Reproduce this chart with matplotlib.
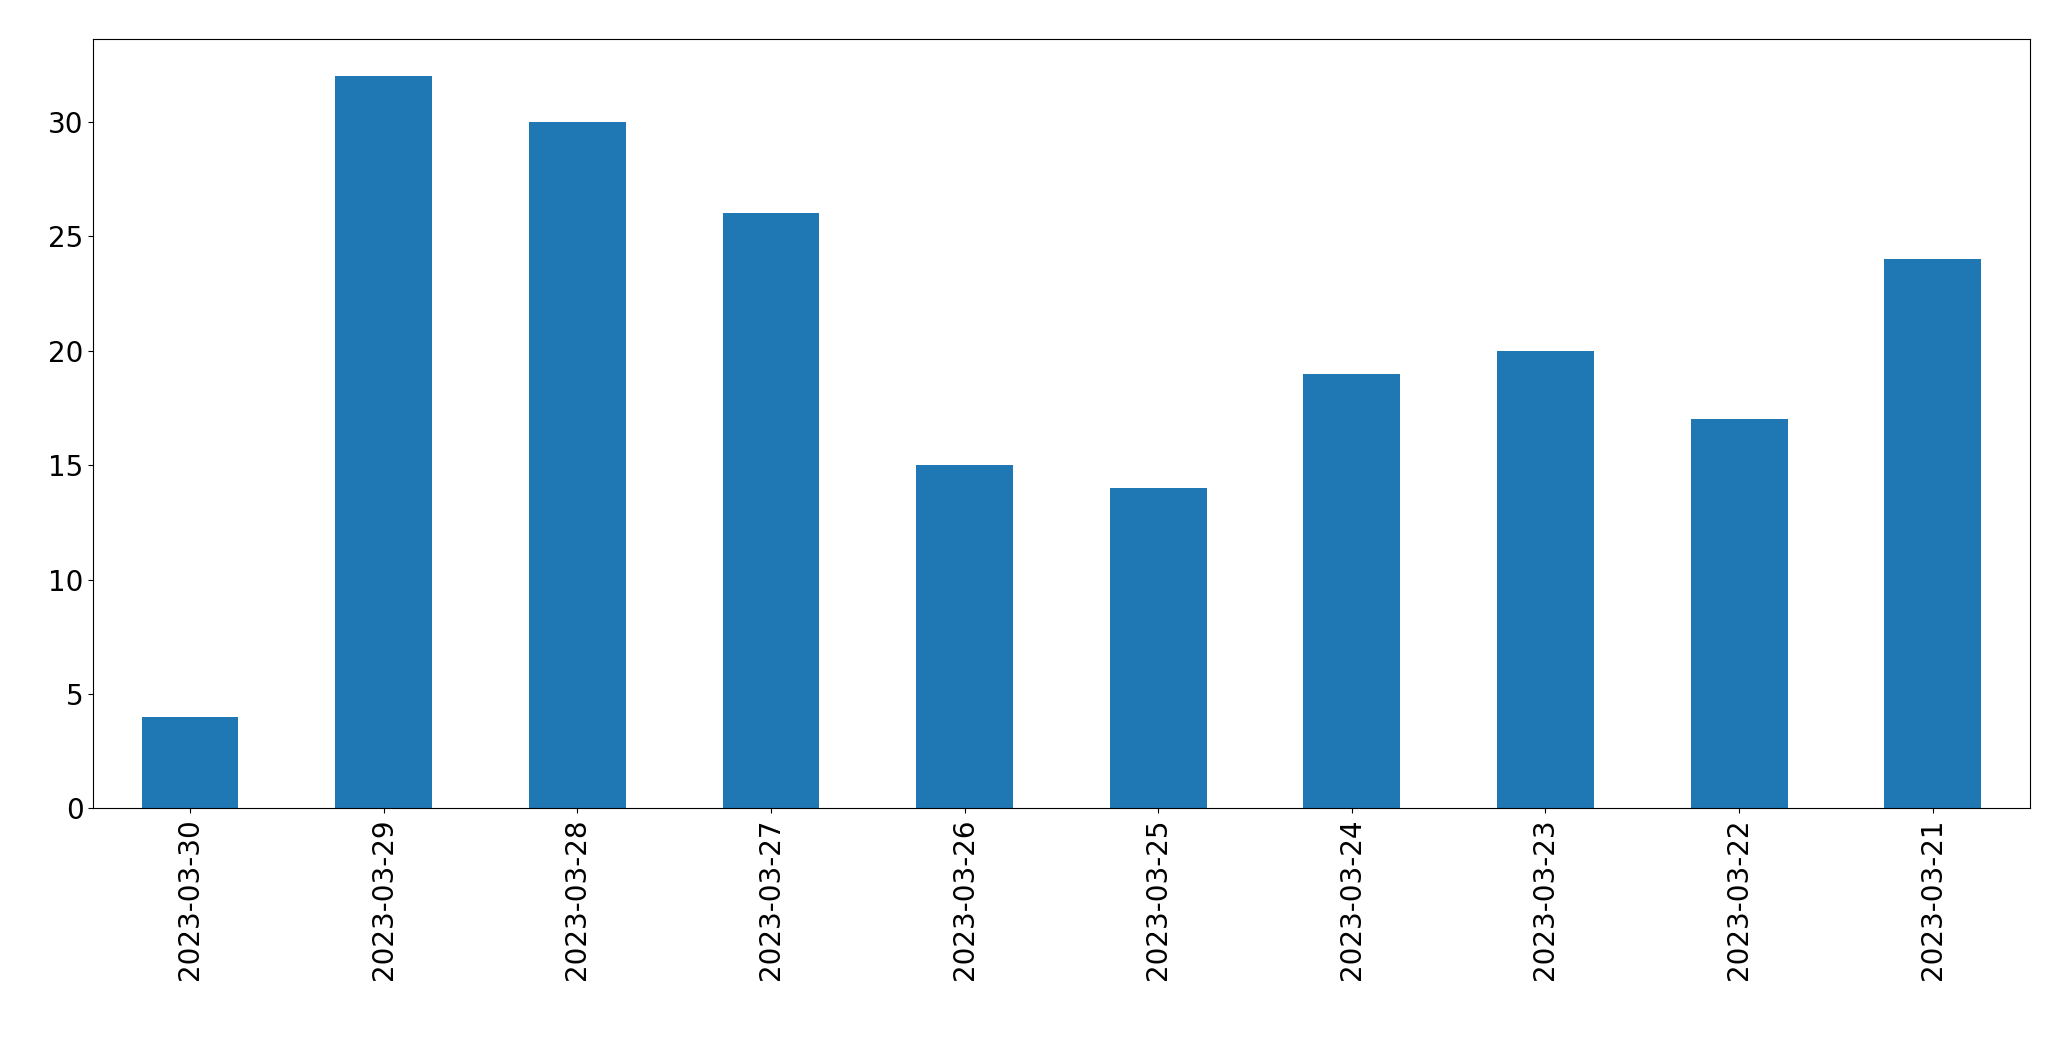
import matplotlib
matplotlib.use("Agg")
import matplotlib.pyplot as plt

dates = ["2023-03-30","2023-03-29","2023-03-28","2023-03-27","2023-03-26",
         "2023-03-25","2023-03-24","2023-03-23","2023-03-22","2023-03-21"]
counts = [4, 32, 30, 26, 15, 14, 19, 20, 17, 24]

fig = plt.figure(figsize=(20.71, 10.61), dpi=100)
ax = fig.add_axes([0.045, 0.238, 0.935, 0.725])
x = range(len(dates))
ax.bar(x, counts, width=0.5, color="#1f77b4")
ax.set_xlim(-0.5, len(dates) - 0.5)
ax.set_ylim(0, max(counts) * 1.05)
ax.set_xticks(list(x))
ax.set_xticklabels(dates, rotation=90, fontsize=20)
ax.tick_params(axis="y", labelsize=20)
fig.savefig("out.png", dpi=100)
